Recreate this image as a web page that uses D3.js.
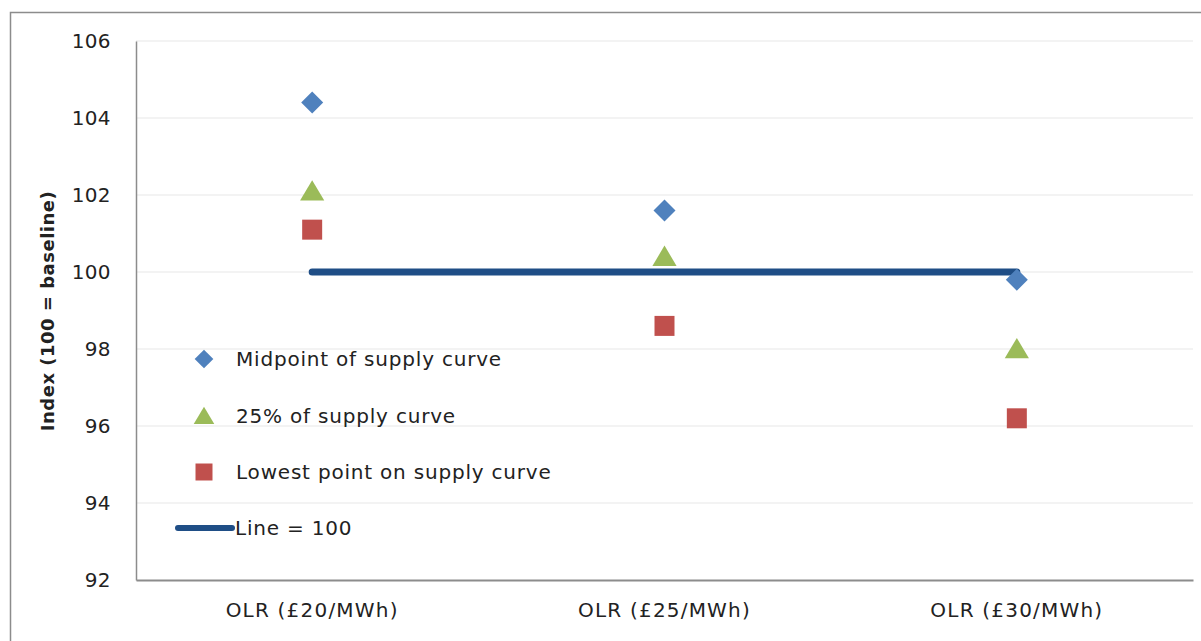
<!DOCTYPE html>
<html>
<head>
<meta charset="utf-8">
<script src="https://cdn.jsdelivr.net/npm/d3@7/dist/d3.min.js"></script>
<style>
  html, body { margin: 0; padding: 0; background: #fff; }
  svg { display: block; }
  text { font-family: "DejaVu Sans", "Liberation Sans", sans-serif; fill: #222; }
</style>
</head>
<body>
<svg id="chart" width="1201" height="641"></svg>
<script>
// Scenario categories along the x axis
const categories = ["OLR (£20/MWh)", "OLR (£25/MWh)", "OLR (£30/MWh)"];

// Index values per series (100 = baseline)
const midpoint = [104.4, 101.6, 99.8];
const quarter = [102.1, 100.4, 98.0];
const lowest = [101.1, 98.6, 96.2];
const baseline = [100, 100, 100];

const yTicks = [92, 94, 96, 98, 100, 102, 104, 106];

const seriesNames = [
  "Midpoint of supply curve",
  "25% of supply curve",
  "Lowest point on supply curve",
  "Line = 100"
];

const FONT = "\"DejaVu Sans\", \"Liberation Sans\", sans-serif";
const svg = d3.select("#chart");
const W = 1201, H = 641;
const plot = { left: 136, right: 1193, top: 41, bottom: 580 };

// Outer chart frame
svg.append("rect")
  .attr("x", 10.5).attr("y", 12.5)
  .attr("width", W + 10).attr("height", H)
  .attr("fill", "#fff").attr("stroke", "#8c8c8c").attr("stroke-width", 1.5);

const x = d3.scaleBand().domain(categories).range([plot.left, plot.right]);
const y = d3.scaleLinear().domain([92, 106]).range([plot.bottom, plot.top]);

// Horizontal gridlines
svg.append("g")
  .selectAll("line")
  .data(yTicks.filter(t => t !== 92))
  .join("line")
  .attr("x1", plot.left).attr("x2", plot.right)
  .attr("y1", d => y(d)).attr("y2", d => y(d))
  .attr("stroke", "#e8e8e8").attr("stroke-width", 1.2);

// Y axis
const yAxis = svg.append("g")
  .attr("transform", `translate(${plot.left},0)`)
  .call(d3.axisLeft(y).tickValues(yTicks).tickSize(0).tickPadding(25));
yAxis.select(".domain").attr("stroke", "#8c8c8c").attr("stroke-width", 1.5);
yAxis.selectAll("text")
  .style("font-family", FONT)
  .style("font-size", "20px")
  .style("letter-spacing", "0.4px")
  .attr("fill", "#222");

// X axis
const xAxis = svg.append("g")
  .attr("transform", `translate(0,${plot.bottom})`)
  .call(d3.axisBottom(x).tickSize(0).tickPadding(23));
xAxis.select(".domain").attr("stroke", "#8c8c8c").attr("stroke-width", 2);
xAxis.selectAll("text")
  .style("font-family", FONT)
  .style("font-size", "20px")
  .style("letter-spacing", "1.2px")
  .attr("fill", "#222");

// Y axis title
svg.append("text")
  .attr("transform", `translate(54,311) rotate(-90)`)
  .attr("text-anchor", "middle")
  .style("font-size", "18px").style("font-weight", "bold")
  .style("letter-spacing", "0.5px")
  .attr("fill", "#111")
  .text("Index (100 = baseline)");

const cx = d => x(d) + x.bandwidth() / 2;

// Baseline line = 100
const line = d3.line().x((d, i) => cx(categories[i])).y(d => y(d));
svg.append("path")
  .datum(baseline)
  .attr("d", line)
  .attr("fill", "none")
  .attr("stroke", "#1F4E86")
  .attr("stroke-width", 7)
  .attr("stroke-linecap", "round");

const diamond = s => `M0,${-s}L${s},0L0,${s}L${-s},0Z`;
const triangle = s => `M0,${-s}L${s * 1.1},${s * 0.85}L${-s * 1.1},${s * 0.85}Z`;
const square = s => `M${-s},${-s}H${s}V${s}H${-s}Z`;

const series = [
  { values: midpoint, color: "#4F81BD", shape: diamond, size: 11 },
  { values: quarter, color: "#9BBB59", shape: triangle, size: 11 },
  { values: lowest, color: "#C0504D", shape: square, size: 10 }
];

series.forEach(s => {
  svg.append("g")
    .selectAll("path")
    .data(s.values)
    .join("path")
    .attr("transform", (d, i) => `translate(${cx(categories[i])},${y(d)})`)
    .attr("d", s.shape(s.size))
    .attr("fill", s.color);
});

// Legend
const legend = svg.append("g");
const legendY = [359, 416, 472, 528];
series.forEach((s, i) => {
  legend.append("path")
    .attr("transform", `translate(204,${legendY[i]})`)
    .attr("d", s.shape(s.size * 0.85))
    .attr("fill", s.color);
});
legend.append("line")
  .attr("x1", 178).attr("x2", 232)
  .attr("y1", legendY[3]).attr("y2", legendY[3])
  .attr("stroke", "#1F4E86").attr("stroke-width", 6)
  .attr("stroke-linecap", "round");
legend.selectAll("text")
  .data(seriesNames)
  .join("text")
  .attr("x", (d, i) => i === 3 ? 235 : 236)
  .attr("y", (d, i) => legendY[i])
  .attr("dy", "0.35em")
  .style("font-size", "20px")
  .style("letter-spacing", "0.8px")
  .text(d => d);
</script>
</body>
</html>
